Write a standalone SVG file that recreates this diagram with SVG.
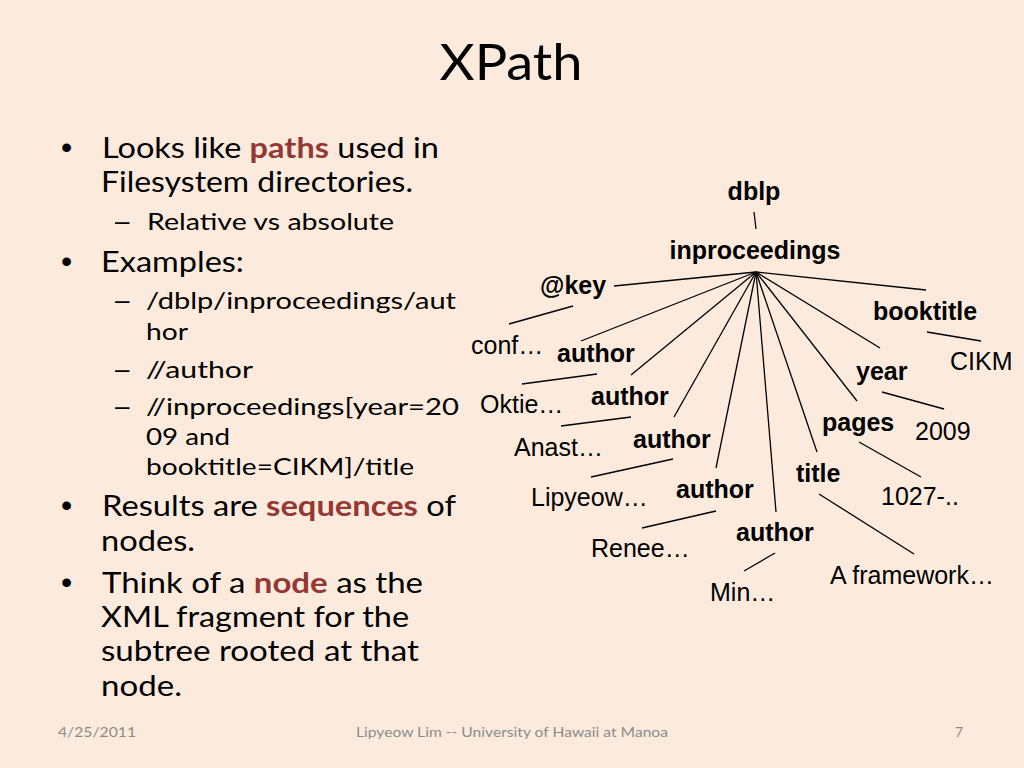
<svg xmlns="http://www.w3.org/2000/svg" width="1024" height="768" viewBox="0 0 1024 768">
<style>
.t{font-family:"Lato","Open Sans","Liberation Sans",sans-serif;fill:#000}
.l1{font-size:28px}
.l2{font-size:24px}
.em{fill:#953735;font-weight:bold}
.bu{font-family:"Liberation Sans",Arial,sans-serif;font-size:32px;fill:#000}
.da{font-family:"Liberation Sans",Arial,sans-serif;font-size:26px;fill:#000}
.nb{font-family:"Liberation Sans",Arial,sans-serif;font-weight:bold;font-size:25px;fill:#000}
.nv{font-family:"Liberation Sans",Arial,sans-serif;font-size:25px;fill:#000}
.ft{font-family:"Lato","Open Sans",sans-serif;font-size:14px;fill:#8b8b8b}
#edges line{stroke:#000;stroke-width:1.3}
</style>
<rect width="1024" height="768" fill="#FCEBDC"/>
<text class="t" x="511" y="80" font-size="50" text-anchor="middle" textLength="143" lengthAdjust="spacingAndGlyphs">XPath</text>
<g id="bullets">
<text class="bu" x="61" y="158">•</text>
<text class="t l1" x="102" y="158" textLength="337" lengthAdjust="spacingAndGlyphs">Looks like <tspan class="em">paths</tspan> used in</text>
<text class="t l1" x="101" y="192" textLength="312" lengthAdjust="spacingAndGlyphs">Filesystem directories.</text>
<text class="da" x="115" y="230">–</text>
<text class="t l2" x="147" y="230" textLength="247" lengthAdjust="spacingAndGlyphs">Relative vs absolute</text>
<text class="bu" x="61" y="272">•</text>
<text class="t l1" x="101" y="272" textLength="143" lengthAdjust="spacingAndGlyphs">Examples:</text>
<text class="da" x="115" y="309">–</text>
<text class="t l2" x="146" y="309" textLength="310" lengthAdjust="spacingAndGlyphs">/dblp/inproceedings/aut</text>
<text class="t l2" x="146" y="340" textLength="42" lengthAdjust="spacingAndGlyphs">hor</text>
<text class="da" x="115" y="378">–</text>
<text class="t l2" x="146" y="378" textLength="107" lengthAdjust="spacingAndGlyphs">//author</text>
<text class="da" x="115" y="415">–</text>
<text class="t l2" x="146" y="415" textLength="313" lengthAdjust="spacingAndGlyphs">//inproceedings[year=20</text>
<text class="t l2" x="146" y="445" textLength="84" lengthAdjust="spacingAndGlyphs">09 and</text>
<text class="t l2" x="146" y="475" textLength="268" lengthAdjust="spacingAndGlyphs">booktitle=CIKM]/title</text>
<text class="bu" x="61" y="516">•</text>
<text class="t l1" x="102" y="516" textLength="354" lengthAdjust="spacingAndGlyphs">Results are <tspan class="em">sequences</tspan> of</text>
<text class="t l1" x="101" y="551" textLength="94" lengthAdjust="spacingAndGlyphs">nodes.</text>
<text class="bu" x="61" y="593">•</text>
<text class="t l1" x="102" y="593" textLength="321" lengthAdjust="spacingAndGlyphs">Think of a <tspan class="em">node</tspan> as the</text>
<text class="t l1" x="101" y="627" textLength="308" lengthAdjust="spacingAndGlyphs">XML fragment for the</text>
<text class="t l1" x="101" y="661" textLength="318" lengthAdjust="spacingAndGlyphs">subtree rooted at that</text>
<text class="t l1" x="101" y="696" textLength="81" lengthAdjust="spacingAndGlyphs">node.</text>
</g>
<g id="edges">
<line x1="754" y1="212" x2="756" y2="229"/>
<line x1="756" y1="272" x2="614" y2="286"/>
<line x1="756" y1="272" x2="926" y2="290"/>
<line x1="756" y1="272" x2="581" y2="341"/>
<line x1="756" y1="272" x2="880" y2="348"/>
<line x1="756" y1="272" x2="631" y2="375"/>
<line x1="756" y1="272" x2="674" y2="417"/>
<line x1="756" y1="272" x2="716" y2="468"/>
<line x1="756" y1="272" x2="776" y2="512"/>
<line x1="756" y1="272" x2="817" y2="452"/>
<line x1="756" y1="272" x2="857" y2="401"/>
<line x1="509" y1="324" x2="573" y2="306"/>
<line x1="927" y1="332" x2="981" y2="341"/>
<line x1="522" y1="384" x2="597" y2="374"/>
<line x1="561" y1="426" x2="631" y2="417"/>
<line x1="591" y1="477" x2="673" y2="459"/>
<line x1="642" y1="528" x2="716" y2="511"/>
<line x1="744" y1="571" x2="775" y2="553"/>
<line x1="882" y1="392" x2="944" y2="409"/>
<line x1="859" y1="442" x2="921" y2="477"/>
<line x1="819" y1="494" x2="914" y2="554"/>
</g>
<g id="n-dblp"><text class="nb" x="754" y="200" text-anchor="middle">dblp</text></g>
<g id="n-inproceedings"><text class="nb" x="755" y="259" text-anchor="middle">inproceedings</text></g>
<g id="n-key"><text class="nb" x="540" y="294">@key</text></g>
<g id="n-conf"><text class="nv" x="471" y="354">conf…</text></g>
<g id="n-booktitle"><text class="nb" x="873" y="320">booktitle</text></g>
<g id="n-cikm"><text class="nv" x="950" y="370">CIKM</text></g>
<g id="n-author1"><text class="nb" x="557" y="362">author</text></g>
<g id="n-oktie"><text class="nv" x="480" y="413">Oktie…</text></g>
<g id="n-author2"><text class="nb" x="591" y="405">author</text></g>
<g id="n-anast"><text class="nv" x="514" y="456">Anast…</text></g>
<g id="n-author3"><text class="nb" x="633" y="448">author</text></g>
<g id="n-lipyeow"><text class="nv" x="531" y="506">Lipyeow…</text></g>
<g id="n-author4"><text class="nb" x="676" y="498">author</text></g>
<g id="n-renee"><text class="nv" x="591" y="557">Renee…</text></g>
<g id="n-author5"><text class="nb" x="736" y="541">author</text></g>
<g id="n-min"><text class="nv" x="710" y="601">Min…</text></g>
<g id="n-year"><text class="nb" x="856" y="380">year</text></g>
<g id="n-2009"><text class="nv" x="915" y="440">2009</text></g>
<g id="n-pages"><text class="nb" x="822" y="431">pages</text></g>
<g id="n-1027"><text class="nv" x="881" y="505">1027-..</text></g>
<g id="n-title"><text class="nb" x="796" y="482">title</text></g>
<g id="n-framework"><text class="nv" x="830" y="584">A framework…</text></g>
<g id="footer">
<text class="ft" x="58" y="737" textLength="78" lengthAdjust="spacingAndGlyphs">4/25/2011</text>
<text class="ft" x="356" y="737" textLength="312" lengthAdjust="spacingAndGlyphs">Lipyeow Lim -- University of Hawaii at Manoa</text>
<text class="ft" x="955" y="737">7</text>
</g>
</svg>
